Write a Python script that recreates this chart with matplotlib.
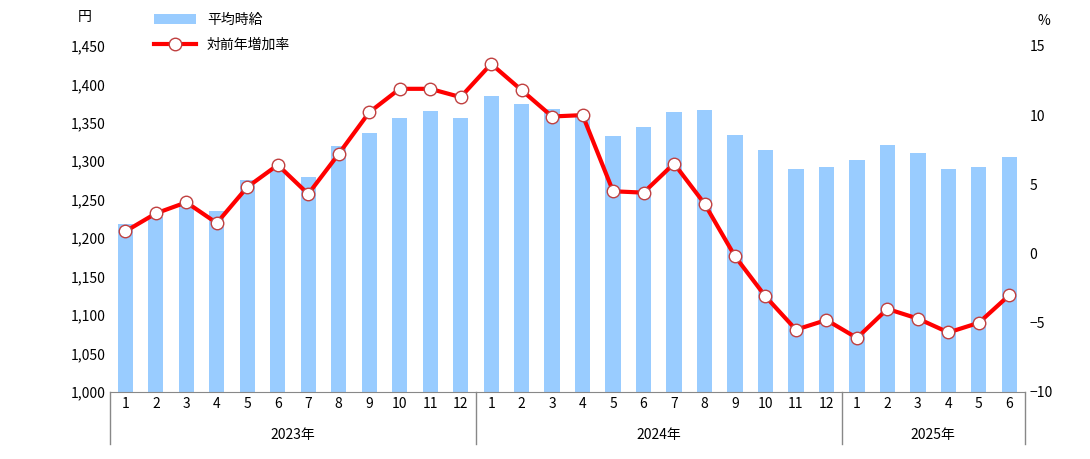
import matplotlib
matplotlib.use("Agg")
import matplotlib.pyplot as plt
import numpy as np

plt.rcParams['font.family'] = ['Noto Sans CJK JP', 'DejaVu Sans']

months = [str(m) for m in range(1, 13)] * 2 + [str(m) for m in range(1, 7)]
years = ["2023年", "2024年", "2025年"]
year_counts = [12, 12, 6]
wage = [1218, 1228, 1242, 1235, 1276, 1290, 1280, 1320, 1337, 1356, 1365, 1356,
        1385, 1375, 1368, 1358, 1333, 1345, 1364, 1367, 1334, 1315, 1290, 1292,
        1301, 1321, 1311, 1290, 1292, 1305]
yoy = [1.6, 2.9, 3.7, 2.2, 4.8, 6.4, 4.3, 7.2, 10.2, 11.9, 11.9, 11.3,
       13.7, 11.8, 9.9, 10.0, 4.5, 4.4, 6.5, 3.6, -0.2, -3.1, -5.5, -4.8,
       -6.1, -4.0, -4.7, -5.7, -5.0, -3.0]

fig = plt.figure(figsize=(10.9, 4.59), dpi=100)
ax = fig.add_axes([0.101, 0.146, 0.839, 0.754])
x = np.arange(len(wage))
b = ax.bar(x, wage, width=0.5, color='#99CCFF', label='平均時給')
ax.set_ylim(1000, 1450)
ax.set_yticks(range(1000, 1451, 50))
ax.set_yticklabels([f"{v:,}" for v in range(1000, 1451, 50)], fontsize=10)
ax.set_xlim(-0.5, len(wage) - 0.5)
ax.set_xticks(x)
ax.set_xticklabels(months, fontsize=10)
ax.tick_params(axis='x', length=0)
ax.tick_params(axis='y', length=0)
for s in ['top', 'right']:
    ax.spines[s].set_visible(False)
ax.spines['left'].set_visible(False)
ax.spines['bottom'].set_color('#888888')

ax2 = ax.twinx()
l, = ax2.plot(x, yoy, color='#FF0000', lw=3, marker='o', markersize=9,
              markerfacecolor='white', markeredgecolor='#C04040', label='対前年増加率')
ax2.set_ylim(-10, 15)
ax2.set_yticks(range(-10, 16, 5))
ax2.tick_params(axis='y', length=0, labelsize=10)
for s in ['top', 'right', 'left', 'bottom']:
    ax2.spines[s].set_visible(False)

fig.text(0.078, 0.955, '円', fontsize=10, ha='center')
fig.text(0.958, 0.945, '%', fontsize=10, ha='center')

# year groups
pos = -0.5
trans = ax.get_xaxis_transform()
for yname, c in zip(years, year_counts):
    ax.plot([pos, pos], [0, -0.15], transform=trans, color='#888888', lw=1, clip_on=False)
    ax.text(pos + c / 2, -0.125, yname, transform=trans, ha='center', va='center', fontsize=10)
    pos += c
ax.plot([pos, pos], [0, -0.15], transform=trans, color='#888888', lw=1, clip_on=False)

fig.legend(handles=[b, l], loc='upper left', bbox_to_anchor=(0.13, 1.0), frameon=False,
           fontsize=10, handlelength=3, labelspacing=0.8)
fig.savefig('out.png', dpi=100)
